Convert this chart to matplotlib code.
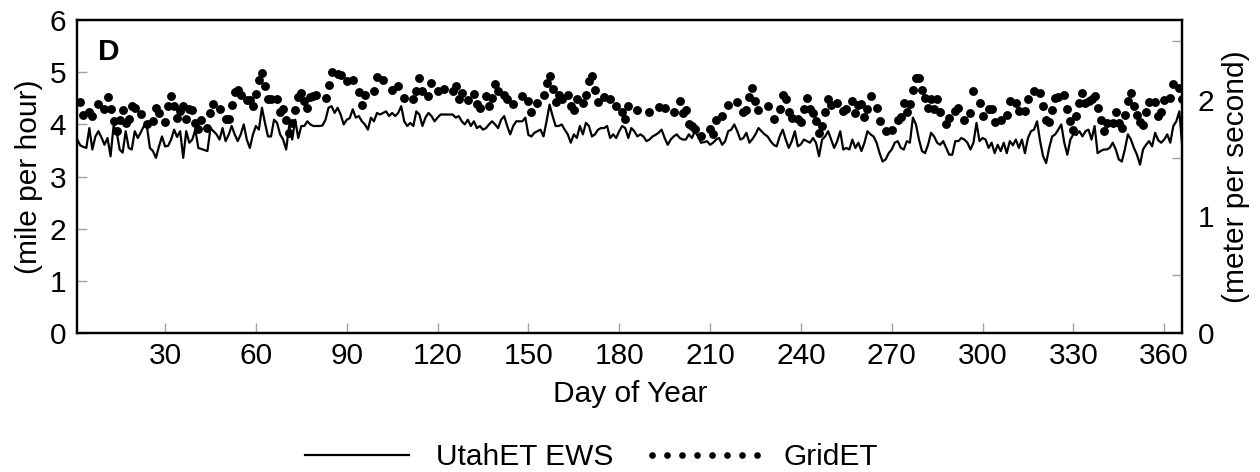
import matplotlib
matplotlib.use('Agg')
import matplotlib.pyplot as plt
import numpy as np
from matplotlib.lines import Line2D

plt.rcParams['font.family'] = ['Liberation Sans', 'DejaVu Sans']

# ---------------- data ----------------
days = np.arange(1, 367)

utah_ews = [
    # days 1-91
    3.71, 3.60, 3.57, 3.55, 3.93, 3.52, 3.77, 3.87, 3.75, 3.61,
    3.74, 3.39, 3.97, 3.87, 3.52, 3.46, 3.87, 3.55, 3.52, 3.87,
    3.74, 3.85, 3.97, 3.97, 3.55, 3.49, 3.36, 3.58, 3.77, 3.58,
    3.59, 3.71, 3.90, 3.76, 3.87, 3.36, 3.87, 3.65, 3.71, 3.90,
    3.55, 3.53, 3.51, 3.49, 3.93, 3.87, 3.81, 3.71, 3.93, 3.68,
    3.80, 3.97, 3.81, 3.68, 3.81, 4.00, 3.71, 3.55, 3.80, 3.97,
    3.90, 4.32, 4.03, 3.77, 3.77, 4.09, 4.03, 3.81, 3.71, 3.52,
    3.97, 3.71, 4.09, 3.74, 3.97, 3.97, 4.06, 4.00, 3.97, 3.97,
    3.97, 3.98, 4.09, 4.32, 4.35, 4.22, 4.32, 4.19, 4.00, 4.09,
    4.12,
    # days 92-181
    4.29, 4.13, 4.16, 4.06, 4.00, 3.90, 4.13, 4.06, 4.22, 4.19,
    4.22,
    4.25, 4.16, 4.22, 4.16, 4.22, 4.35, 4.06, 3.97, 4.03, 3.97,
    4.25, 4.19, 3.97, 4.13, 4.22, 4.16, 4.06, 4.13, 4.19, 4.19,
    4.19,
    4.19, 4.19, 4.13, 4.16, 4.06, 4.00, 4.09, 3.97, 4.06, 3.93,
    3.97, 3.90, 3.93, 4.00, 4.06,
    4.00,
    3.93, 4.09, 4.16, 3.97, 3.81,
    3.97, 4.06, 4.06, 4.06, 4.13,
    3.80,
    3.77, 3.84, 3.87, 3.90, 3.77,
    4.06, 4.38, 4.16, 3.97, 3.97, 4.00, 3.90, 3.81, 3.65, 3.81,
    3.74, 3.97, 3.81, 4.03, 3.97, 3.77, 3.81, 3.90, 3.93, 3.93,
    3.97, 3.74, 3.81, 3.74, 3.87, 3.97,
    # days 182-272
    3.93, 3.74, 3.93, 3.87, 3.77, 3.81, 3.77, 3.68, 3.71, 3.77,
    3.80,
    3.84, 3.90, 3.74, 3.61, 3.71, 3.77, 3.81, 3.74, 3.71, 3.71,
    3.81, 3.74, 3.87, 3.77, 3.65,
    3.66,
    3.68, 3.61, 3.65, 3.71, 3.74,
    3.61, 3.68, 3.87, 3.90, 4.00, 3.87, 3.71, 3.74, 3.84, 3.65,
    3.72,
    3.81, 3.93, 3.87, 3.81, 3.77, 3.68, 3.61, 3.58, 3.77, 3.90,
    3.71, 3.55, 3.68, 3.87, 3.58,
    3.62,
    3.71, 3.68, 3.65, 3.74, 3.65,
    3.39, 3.71, 3.77, 3.87, 3.71, 3.55, 3.68, 3.87, 3.52, 3.55,
    3.52, 3.71, 3.55, 3.65, 3.49, 3.65, 3.87, 3.81, 3.77, 3.65,
    3.45, 3.29, 3.33, 3.45, 3.52, 3.65, 3.68,
    # days 273-366
    3.55, 3.52, 3.68, 3.65, 4.13, 4.00, 3.71, 3.49, 3.45, 3.61,
    3.84, 3.77,
    3.65,
    3.61, 3.68, 3.55, 3.42, 3.42, 3.68, 3.68, 3.74,
    3.71, 3.65, 3.52, 3.65, 4.03,
    3.68,
    3.74, 3.71, 3.55, 3.65, 3.45,
    3.61, 3.49, 3.65, 3.45, 3.68,
    3.60,
    3.71, 3.55, 3.71, 3.45, 3.74,
    3.87, 3.90, 4.06, 3.68, 3.39, 3.26, 3.55, 3.77, 3.81, 3.90,
    4.00, 3.65, 3.42, 3.71, 3.81,
    3.80,
    3.87, 3.77, 3.87, 3.90, 3.71,
    3.97, 3.45, 3.49, 3.52, 3.52,
    3.55,
    3.65, 3.52, 3.33, 3.29, 3.52,
    3.81, 3.71, 3.55, 3.42, 3.23, 3.52, 3.61, 3.68, 3.58, 3.84,
    3.70,
    3.65, 3.71, 3.81, 3.65, 3.97, 4.06, 4.25, 3.55,
]

grid_days = [
    2, 3, 5, 6, 8, 10, 11, 12, 13, 14, 15, 16, 17, 18, 19, 20, 22, 24, 26, 27,
    28, 30, 31, 32, 33, 34, 35, 36, 37, 38, 39, 40, 41, 42, 44, 45, 46, 48, 50, 51,
    52, 53, 54, 55, 57, 58, 59, 60, 61, 62, 63, 64, 65, 67, 68, 69, 70, 71, 72, 73,
    74, 75, 76, 77, 78, 79, 80, 83, 84, 85, 87, 88, 90, 92,
    94, 95, 96, 99, 100, 102, 105, 107, 109, 112, 113, 114, 115, 117, 118, 120,
    122, 125, 126, 127, 128, 130, 132, 133, 134, 136, 137, 138, 139, 140, 142,
    143, 145, 148, 150, 151, 153, 155, 156, 157, 158, 159, 160, 161, 163, 164,
    165, 166, 168, 169, 170, 171, 172, 173, 175, 177, 179, 181, 182, 183,
    186, 190, 193, 195, 198, 200, 201, 202, 203, 204, 205, 207, 210, 211, 212,
    214, 216, 219, 221, 222, 223, 224, 225, 226, 229, 231, 233, 234, 235, 236,
    237, 239, 240, 241, 242, 243, 244, 245, 246, 247, 248, 249, 250, 252, 254,
    255, 257, 258, 259, 260, 261, 262, 263, 265, 266, 268, 270, 272, 273, 274,
    275, 276, 277, 278, 279, 280, 281, 282, 283, 284, 285, 286, 288, 289, 291,
    292, 294, 296, 297, 299, 300, 302, 303, 304, 306, 308, 309, 311, 312, 314,
    315, 317, 319, 320, 321, 322, 323, 324, 325, 327, 328, 329, 330, 331, 332,
    333, 334, 335, 336, 337, 338, 339, 340, 341, 343, 344, 345, 346, 347, 348,
    349, 350, 351, 352, 353, 354, 355, 357, 358, 359, 360, 362, 363, 365, 366,
]

grid_et = [
    4.43, 4.19, 4.24, 4.16, 4.40, 4.29, 4.53, 4.30, 4.06, 3.87, 4.09, 4.27, 4.03, 4.11, 4.36, 4.32, 4.20, 4.00, 4.06, 4.32,
    4.22, 4.04, 4.35, 4.54, 4.36, 4.13, 4.25, 4.36, 4.11, 4.29, 4.27, 4.03, 3.92, 4.08, 3.93, 4.21, 4.40, 4.30, 4.11, 4.11,
    4.38, 4.63, 4.65, 4.57, 4.47, 4.47, 4.35, 4.59, 4.85, 4.98, 4.73, 4.48, 4.48, 4.48, 4.24, 4.29, 4.09, 3.84, 4.03, 4.27,
    4.53, 4.61, 4.45, 4.32, 4.53, 4.54, 4.57, 4.51, 4.75, 5.00, 4.96, 4.95, 4.83, 4.86,
    4.62, 4.38, 4.57, 4.64, 4.91, 4.86, 4.66, 4.73, 4.51, 4.48, 4.64, 4.89, 4.64, 4.54, 4.79, 4.64,
    4.67, 4.64, 4.73, 4.48, 4.61, 4.47, 4.59, 4.40, 4.32, 4.54, 4.35, 4.51, 4.77, 4.64, 4.57,
    4.48, 4.40, 4.54, 4.45, 4.24, 4.41, 4.56, 4.80, 4.93, 4.67, 4.43, 4.57, 4.48, 4.56, 4.35,
    4.27, 4.49, 4.41, 4.57, 4.83, 4.93, 4.66, 4.43, 4.53, 4.49, 4.36, 4.24, 4.11, 4.36,
    4.27, 4.24, 4.34, 4.32, 4.24, 4.45, 4.22, 4.27, 4.01, 3.97, 3.92, 3.77, 3.92, 3.81, 4.08,
    4.16, 4.38, 4.43, 4.24, 4.27, 4.53, 4.70, 4.45, 4.27, 4.35, 4.11, 4.29, 4.56, 4.49, 4.24,
    4.13, 4.11, 4.04, 4.30, 4.51, 4.29, 4.22, 4.06, 3.83, 3.97, 4.24, 4.49, 4.38, 4.41, 4.25,
    4.30, 4.45, 4.22, 4.38, 4.40, 4.15, 4.30, 4.54, 4.32, 4.07, 3.87, 3.89, 4.09, 4.15, 4.41,
    4.24, 4.40, 4.66, 4.89, 4.89, 4.66, 4.51, 4.32, 4.49, 4.29, 4.49, 4.24, 4.00, 4.13, 4.25,
    4.32, 4.08, 4.22, 4.64, 4.41, 4.16, 4.29, 4.29, 4.04, 4.09, 4.19, 4.45, 4.41, 4.25, 4.25,
    4.49, 4.64, 4.61, 4.35, 4.09, 4.04, 4.27, 4.51, 4.53, 4.57, 4.30, 4.06, 3.90, 4.16, 4.41,
    4.61, 4.41, 4.45, 4.49, 4.54, 4.32, 4.08, 3.87, 4.03, 4.02, 4.24, 4.02, 3.93, 4.19, 4.45,
    4.61, 4.35, 4.19, 4.04, 3.98, 4.24, 4.43, 4.43, 4.16, 4.24, 4.47, 4.51, 4.77, 4.70, 4.49,
]

x_ticks = [30, 60, 90, 120, 150, 180, 210, 240, 270, 300, 330, 360]
y_ticks_mph = [0, 1, 2, 3, 4, 5, 6]
y_ticks_ms = [0, 1, 2]
y_minor_ms = [0.5, 1.5, 2.5]
MPH_TO_MS = 0.44704

series_names = ['UtahET EWS', 'GridET']
panel_letter = 'D'

# ---------------- figure ----------------
FS = 21.5
TICK_GREY = '#a0a0a0'

fig = plt.figure(figsize=(12.6, 4.72), dpi=100)
ax = fig.add_axes([0.0613, 0.2939, 0.8771, 0.6637])

ax.plot(days, utah_ews, color='black', lw=1.6, zorder=3)
ax.plot(grid_days, grid_et, ls='none', marker='o', ms=6.4, color='black',
        markeredgewidth=0, zorder=4)

ax.set_xlim(1, 366)
ax.set_ylim(0, 6)
ax.set_xticks(x_ticks)
ax.set_yticks(y_ticks_mph)
ax.tick_params(axis='both', direction='in', color=TICK_GREY, length=7,
               width=1, labelsize=FS, labelcolor='black')
ax.tick_params(axis='x', pad=6)
ax.tick_params(axis='y', pad=8)
for s in ax.spines.values():
    s.set_linewidth(1.6)
    s.set_color('black')

ax.set_xlabel('Day of Year', fontsize=FS)
ax.xaxis.set_label_coords(0.5, -0.15)
ax.set_ylabel('(mile per hour)', fontsize=FS)
ax.yaxis.set_label_coords(-0.031, 0.5)

ax.text(0.0186, 0.943, panel_letter, transform=ax.transAxes, fontsize=FS,
        fontweight='bold', ha='left', va='top')

ax2 = ax.twinx()
ax2.set_ylim(0, 6 * MPH_TO_MS)
ax2.set_yticks(y_ticks_ms)
ax2.set_yticks(y_minor_ms, minor=True)
ax2.tick_params(axis='y', which='major', length=0, labelsize=FS, pad=11)
ax2.tick_params(axis='y', which='minor', direction='in', color=TICK_GREY,
                length=7, width=1)
for s in ax2.spines.values():
    s.set_linewidth(1.6)
ax2.set_ylabel('(meter per second)', fontsize=FS)
ax2.yaxis.set_label_coords(1.0356, 0.5)

h1 = Line2D([], [], color='black', lw=1.6)
h2 = Line2D([], [], color='black', ls='none', marker='o', ms=4.8,
            markeredgewidth=0)
fig.legend([h1, h2], series_names, loc='center',
           bbox_to_anchor=(587 / 1260, 1 - 457 / 472), ncol=2, frameon=False,
           fontsize=FS, handlelength=4.1, numpoints=8, handletextpad=0.6,
           columnspacing=1.0)

fig.savefig('out.png', dpi=100)
